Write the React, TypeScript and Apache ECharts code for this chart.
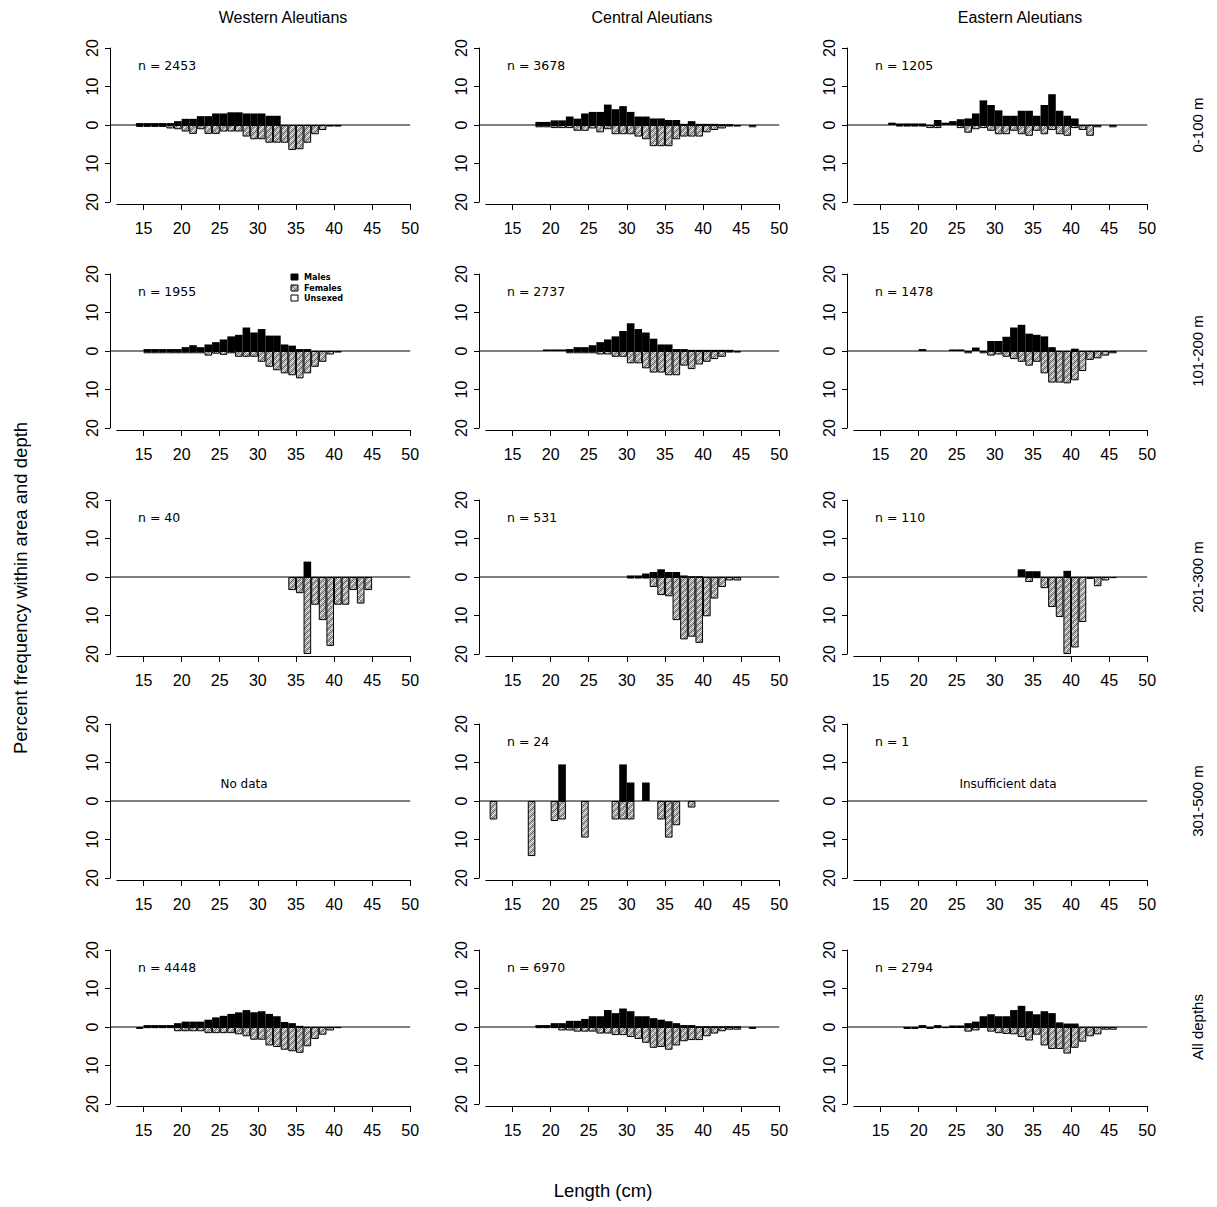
import React, { useEffect, useRef } from "react";
import * as echarts from "echarts";

// ---------- labels ----------
const columnTitles = ["Western Aleutians", "Central Aleutians", "Eastern Aleutians"];
const depthLabels = ["0-100 m", "101-200 m", "201-300 m", "301-500 m", "All depths"];
const xTickValues = [15, 20, 25, 30, 35, 40, 45, 50];
const yTickValues = [-20, -10, 0, 10, 20];
const sampleSizes = ["n = 2453", "n = 3678", "n = 1205", "n = 1955", "n = 2737", "n = 1478", "n = 40", "n = 531", "n = 110", "", "n = 24", "n = 1", "n = 4448", "n = 6970", "n = 2794"];
const emptyNotes = ["", "", "", "", "", "", "", "", "", "No data", "", "Insufficient data", "", "", ""];
const legendLabels = ["Males", "Females", "Unsexed"];

// ---------- data: percent frequency by 1-cm length bin (first bin = start) ----------
// Western Aleutians
const west1Start = 14;
const west1Males = [0.5, 0.5, 0.5, 0.5, 0.5, 1.0, 1.6, 1.6, 2.3, 2.3, 3.0, 3.0, 3.3, 3.3, 3.0, 3.0, 3.0, 2.4, 2.4];
const west1Females = [0.5, 0.5, 0.5, 0.5, 0.9, 1.1, 1.7, 2.3, 1.1, 2.3, 2.3, 1.7, 1.7, 1.7, 3.0, 3.7, 3.7, 4.6, 4.6, 4.6, 6.5, 6.3, 4.6, 2.4, 1.3, 0.4, 0.4];
const west2Start = 15;
const west2Males = [0.5, 0.5, 0.5, 0.5, 0.5, 1.0, 1.5, 1.0, 1.7, 2.3, 3.0, 3.8, 4.2, 6.1, 4.8, 5.7, 4.0, 4.0, 1.7, 1.4, 0.5, 0.5];
const west2Females = [0.6, 0.6, 0.6, 0.6, 0.6, 0.6, 0.6, 0.6, 1.2, 0.7, 1.0, 0.6, 1.5, 1.5, 1.5, 2.8, 4.1, 5.0, 5.8, 6.3, 7.1, 5.8, 4.1, 2.8, 0.9, 0.4];
const west3Start = 34;
const west3Males = [0, 0, 4.0];
const west3Females = [3.4, 4.2, 20, 7.2, 11.2, 17.9, 7.2, 7.2, 3.4, 6.9, 3.4];
const west5Start = 14;
const west5Males = [0, 0.5, 0.5, 0.5, 0.5, 1.0, 1.4, 1.4, 1.4, 1.9, 2.5, 2.9, 3.4, 3.8, 4.4, 3.8, 4.1, 3.4, 2.8, 1.3, 1.0, 0.3];
const west5Females = [0.5, 0.3, 0.3, 0.3, 0.3, 1.1, 1.1, 1.1, 1.1, 1.6, 1.6, 1.6, 1.6, 1.9, 2.4, 3.3, 3.3, 4.8, 5.2, 5.9, 6.3, 6.7, 5.0, 3.1, 2.0, 0.9, 0.3];

// Central Aleutians
const cent1Start = 18;
const cent1Males = [0.8, 0.8, 1.2, 1.2, 2.2, 1.65, 3.0, 3.4, 3.4, 5.3, 4.1, 4.9, 3.4, 2.2, 2.2, 1.7, 1.7, 1.3, 1.3, 0.3, 1.0, 0.3, 0.3, 0.3, 0.2, 0.2];
const cent1Females = [0.6, 0.6, 0.8, 0.8, 0.8, 1.5, 1.5, 0.9, 1.9, 1.1, 2.4, 2.4, 2.4, 3.0, 3.7, 5.5, 5.5, 5.5, 3.7, 3.0, 3.0, 3.0, 1.9, 1.3, 0.9, 0.4, 0.4, 0, 0.6];
const cent2Start = 19;
const cent2Males = [0.4, 0.4, 0.4, 0.5, 1.0, 1.0, 1.5, 2.3, 3.0, 3.8, 5.2, 7.2, 5.7, 4.8, 3.2, 1.7, 1.7, 0.5, 0.5, 0.3, 0.3, 0.3, 0.3, 0.3, 0.3];
const cent2Females = [0, 0, 0, 0.6, 0.6, 0.6, 0.6, 0.9, 0.9, 1.5, 1.5, 3.2, 3.2, 4.5, 5.6, 5.6, 6.3, 6.3, 3.8, 4.7, 3.5, 2.8, 2.1, 1.5, 0.4, 0.4];
const cent3Start = 30;
const cent3Males = [0.4, 0.4, 0.9, 1.3, 2.0, 1.3, 1.3, 0.4, 0.2, 0.2];
const cent3Females = [0.4, 0.4, 0.4, 2.6, 4.7, 5.0, 11.2, 16.2, 15.5, 17.1, 10.2, 5.6, 2.6, 0.9, 0.9];
const cent4Start = 12;
const cent4Males = [0, 0, 0, 0, 0, 0, 0, 0, 0, 9.5, 0, 0, 0, 0, 0, 0, 0, 9.5, 4.8, 0, 4.8];
const cent4Females = [4.8, 0, 0, 0, 0, 14.3, 0, 0, 5.2, 4.8, 0, 0, 9.5, 0, 0, 0, 4.8, 4.8, 4.8, 0, 0, 0, 4.8, 9.5, 6.3, 0, 1.7];
const cent5Start = 18;
const cent5Males = [0.5, 0.5, 1.0, 1.0, 1.6, 1.6, 2.1, 2.8, 2.8, 4.4, 3.6, 4.8, 4.1, 2.8, 2.8, 2.3, 1.9, 1.5, 1.0, 0.5, 0.5, 0.2, 0.2, 0.2, 0.2, 0.2, 0.2];
const cent5Females = [0.3, 0.3, 0.3, 0.9, 0.9, 1.2, 1.2, 1.2, 1.7, 1.7, 2.1, 2.1, 2.6, 3.1, 4.1, 5.4, 5.2, 5.9, 4.8, 3.7, 3.4, 3.4, 2.4, 1.7, 1.1, 0.7, 0.7, 0, 0.5];

// Eastern Aleutians
const east1Start = 16;
const east1Males = [0.6, 0.4, 0.4, 0.4, 0.4, 0, 1.3, 0.6, 1.0, 1.5, 1.7, 3.0, 6.4, 5.2, 3.8, 2.4, 2.4, 3.7, 3.7, 2.4, 5.2, 8.0, 3.7, 2.4, 1.7];
const east1Females = [0, 0.4, 0.4, 0.4, 0.4, 0.8, 0.8, 0, 0, 0.8, 2.0, 1.1, 0.8, 1.5, 2.4, 2.4, 1.5, 2.4, 2.8, 1.5, 2.4, 1.3, 2.4, 2.8, 0.8, 1.3, 2.8, 0.6, 0, 0.6];
const east2Start = 20;
const east2Males = [0.5, 0, 0, 0, 0.4, 0.4, 0, 0.9, 0, 2.6, 2.6, 3.7, 6.1, 6.8, 4.5, 4.2, 3.8, 1.0, 0, 0, 0.6];
const east2Females = [0, 0, 0, 0, 0, 0, 0.6, 0, 0.6, 1.2, 0.9, 1.5, 2.1, 2.8, 3.8, 2.8, 5.8, 8.2, 8.2, 8.4, 7.6, 5.2, 2.3, 1.9, 1.2, 0.6];
const east3Start = 33;
const east3Males = [2.0, 1.5, 1.5, 0, 0, 0, 1.6];
const east3Females = [0, 1.3, 0.3, 2.9, 7.8, 10.4, 20, 18.3, 11.7, 0.5, 2.4, 0.9, 0.3];
const east5Start = 18;
const east5Males = [0, 0, 0.5, 0, 0.5, 0, 0.4, 0.4, 1.0, 1.4, 2.8, 3.3, 2.8, 2.8, 4.4, 5.5, 4.1, 3.3, 4.1, 3.6, 1.2, 0.9, 0.9];
const east5Females = [0.5, 0.5, 0.3, 0.5, 0.3, 0.3, 0.2, 0.2, 1.2, 0.9, 0.2, 1.2, 1.6, 1.8, 1.9, 2.6, 3.5, 2.0, 4.8, 5.7, 5.7, 6.9, 5.4, 3.8, 2.4, 1.9, 0.7, 0.7];

const emptyBins: number[] = [];

// panels in row-major order (rows = depth, columns = area)
const panelStarts = [west1Start, cent1Start, east1Start, west2Start, cent2Start, east2Start, west3Start, cent3Start, east3Start, 0, cent4Start, 0, west5Start, cent5Start, east5Start];
const panelMales = [west1Males, cent1Males, east1Males, west2Males, cent2Males, east2Males, west3Males, cent3Males, east3Males, emptyBins, cent4Males, emptyBins, west5Males, cent5Males, east5Males];
const panelFemales = [west1Females, cent1Females, east1Females, west2Females, cent2Females, east2Females, west3Females, cent3Females, east3Females, emptyBins, cent4Females, emptyBins, west5Females, cent5Females, east5Females];

// ---------- layout ----------
const AXIS_X = [110, 479, 847];
const ROW_TOP = [48, 274, 500, 724, 950];
const PANEL_H = 154;
const PX_PER_CM = 7.62;
const X_MIN = 10.6;
const X_MAX = 50;
const X_AXIS_START = 11.5;
const FONT = '"Liberation Sans", Arial, sans-serif';
const SMALL_FONT = '"DejaVu Sans", sans-serif';

function makeHatch(): HTMLCanvasElement {
  const c = document.createElement("canvas");
  c.width = 6;
  c.height = 6;
  const g = c.getContext("2d")!;
  g.fillStyle = "#b4b4b4";
  g.fillRect(0, 0, 6, 6);
  g.fillStyle = "#6e6e6e";
  for (let i = 0; i < 6; i++) for (let j = 0; j < 6; j++) if ((i + j) % 2 === 0) g.fillRect(i, j, 1, 1);
  g.strokeStyle = "#ffffff";
  g.lineWidth = 1.2;
  g.beginPath();
  g.moveTo(0, 6);
  g.lineTo(6, 0);
  g.stroke();
  return c;
}

export default function App() {
  const ref = useRef<HTMLDivElement>(null);
  useEffect(() => {
    if (!ref.current) return;
    const chart = echarts.init(ref.current, undefined, { renderer: "svg" });
    const hatch = makeHatch();
    const hatchFill: any = { image: hatch, repeat: "repeat", imageWidth: 6, imageHeight: 6 };

    const grid: any[] = [];
    const xAxis: any[] = [];
    const yAxis: any[] = [];
    const series: any[] = [];
    const graphic: any[] = [];
    const black = "#000";

    for (let r = 0; r < 5; r++) {
      for (let c = 0; c < 3; c++) {
        const p = r * 3 + c;
        const gA = 2 * p;
        const gB = 2 * p + 1;
        const ax = AXIS_X[c];
        const top = ROW_TOP[r];
        grid.push({ left: ax, top, width: (X_MAX - X_MIN) * PX_PER_CM, height: PANEL_H });
        grid.push({ left: ax + (X_AXIS_START - X_MIN) * PX_PER_CM, top: top + PANEL_H + 1, width: (X_MAX - X_AXIS_START) * PX_PER_CM, height: 1 });
        xAxis.push({ gridIndex: gA, type: "value", min: X_MIN, max: X_MAX, show: false });
        xAxis.push({
          gridIndex: gB, type: "value", min: X_AXIS_START, max: X_MAX, position: "bottom",
          axisLine: { show: true, onZero: false, lineStyle: { color: black, width: 1 } },
          axisTick: { show: true, customValues: xTickValues, length: 6, lineStyle: { color: black, width: 1 } },
          axisLabel: { customValues: xTickValues, color: black, fontSize: 16, fontFamily: FONT, margin: 16 },
          splitLine: { show: false },
        });
        yAxis.push({
          gridIndex: gA, type: "value", min: -20, max: 20, interval: 10,
          axisLine: { show: true, lineStyle: { color: black, width: 1 } },
          axisTick: { show: true, customValues: yTickValues, length: 5, lineStyle: { color: black, width: 1 } },
          axisLabel: { color: black, fontSize: 16, fontFamily: FONT, rotate: 90, margin: 10, formatter: (v: number) => String(Math.abs(v)) },
          splitLine: { show: false },
        });
        yAxis.push({ gridIndex: gB, type: "value", min: 0, max: 1, show: false });

        // zero line
        series.push({
          type: "line", xAxisIndex: gA, yAxisIndex: gA, data: [[X_MIN, 0], [X_MAX, 0]],
          symbol: "none", silent: true, z: 1, lineStyle: { color: black, width: 1 },
        });
        const start = panelStarts[p];
        const males = panelMales[p];
        const females = panelFemales[p];
        series.push({
          type: "bar", name: "Males", xAxisIndex: gA, yAxisIndex: gA, barWidth: PX_PER_CM, barGap: "-100%", z: 2,
          data: males.map((v, i) => [start + i + 0.5, v]).filter((d) => d[1] > 0),
          itemStyle: { color: black },
        });
        series.push({
          type: "bar", name: "Females", xAxisIndex: gA, yAxisIndex: gA, barWidth: PX_PER_CM, barGap: "-100%", z: 2,
          data: females.map((v, i) => [start + i + 0.5, -v]).filter((d) => d[1] < 0),
          itemStyle: { color: hatchFill, borderColor: black, borderWidth: 1 },
        });

        if (sampleSizes[p]) {
          graphic.push({
            type: "text", x: ax + 28, y: top + 17,
            style: { text: sampleSizes[p], font: `12.5px ${SMALL_FONT}`, fill: black, textAlign: "left", textVerticalAlign: "middle" },
          });
        }
        if (emptyNotes[p]) {
          graphic.push({
            type: "text", x: c === 0 ? 244 : 1008, y: top + 60,
            style: { text: emptyNotes[p], font: `12px ${SMALL_FONT}`, fill: black, textAlign: "center", textVerticalAlign: "middle" },
          });
        }
      }
    }

    columnTitles.forEach((t, c) => {
      graphic.push({
        type: "text", x: AXIS_X[c] + 173, y: 17,
        style: { text: t, font: `16px ${FONT}`, fill: black, textAlign: "center", textVerticalAlign: "middle" },
      });
    });
    depthLabels.forEach((t, r) => {
      graphic.push({
        type: "text", x: 1197, y: ROW_TOP[r] + PANEL_H / 2, rotation: Math.PI / 2,
        style: { text: t, font: `15px ${FONT}`, fill: black, textAlign: "center", textVerticalAlign: "middle" },
      });
    });
    graphic.push({
      type: "text", x: 20, y: 588, rotation: Math.PI / 2,
      style: { text: "Percent frequency within area and depth", font: `18.5px ${FONT}`, fill: black, textAlign: "center", textVerticalAlign: "middle" },
    });
    graphic.push({
      type: "text", x: 603, y: 1190,
      style: { text: "Length (cm)", font: `18.5px ${FONT}`, fill: black, textAlign: "center", textVerticalAlign: "middle" },
    });

    // legend (in 101-200 m, Western panel)
    const legendFills: any[] = [black, hatchFill, "#fff"];
    const legendY = [277, 288, 298];
    legendLabels.forEach((t, i) => {
      graphic.push({
        type: "rect", shape: { x: 291, y: legendY[i] - 3, width: 7, height: 6 },
        style: { fill: legendFills[i], stroke: black, lineWidth: 1 },
      });
      graphic.push({
        type: "text", x: 304, y: legendY[i],
        style: { text: t, font: `bold 9px "Liberation Sans Narrow", "DejaVu Sans Condensed", sans-serif`, fill: black, textAlign: "left", textVerticalAlign: "middle" },
      });
    });

    chart.setOption({
      animation: false,
      backgroundColor: "#fff",
      grid, xAxis, yAxis, series, graphic,
    });
    return () => chart.dispose();
  }, []);

  return <div ref={ref} style={{ position: "fixed", left: 0, top: 0, width: 1217, height: 1207, background: "#fff" }} />;
}
